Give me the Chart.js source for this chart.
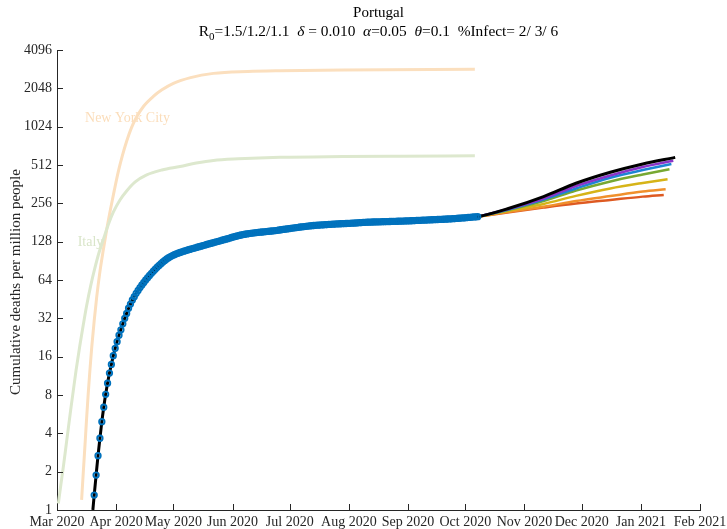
<!DOCTYPE html>
<html>
<head>
<meta charset="utf-8">
<script src="https://cdn.jsdelivr.net/npm/chart.js@4.4.0/dist/chart.umd.min.js"></script>
<style>
html,body{margin:0;padding:0;background:#fff;}
#wrap{width:727px;height:529px;position:relative;}
</style>
</head>
<body>
<div id="wrap"><canvas id="c" width="727" height="529"></canvas></div>
<script>
// ---- tick labels (x = days since 1 Mar 2020) ----
const monthTickDays = [0, 31, 61, 92, 122, 153, 184, 214, 245, 275, 306, 337];
const monthTickLabels = ['Mar 2020','Apr 2020','May 2020','Jun 2020','Jul 2020','Aug 2020','Sep 2020','Oct 2020','Nov 2020','Dec 2020','Jan 2021','Feb 2021'];
const yTickValues = [1, 2, 4, 8, 16, 32, 64, 128, 256, 512, 1024, 2048, 4096];

// ---- Portugal observed cumulative deaths per million (daily, from day 19.5) ----
const portugalStartDay = 19.5;
const portugalValues = [
 1.31,1.88,2.67,3.66,4.94,6.41,8.1,9.9,11.9,13.9,16.3,18.6,21.0,23.6,26.0,29.0,32.0,35.0,38.4,41.4,
 44.6,47.3,50.3,53.0,55.8,58.5,61.2,64.0,66.8,69.5,72.2,75.0,77.8,80.6,83.3,86.0,88.6,91.1,93.6,95.8,
 97.8,99.6,101.2,102.7,104.0,105.3,106.6,107.8,109.0,110.1,111.2,112.4,113.5,114.6,115.7,116.9,118.0,119.2,120.4,121.6,
 122.8,124.0,125.2,126.4,127.6,128.8,130.0,131.3,132.6,133.9,135.2,136.6,138.0,139.4,140.8,142.1,143.3,144.4,145.4,146.4,
 147.3,148.1,148.9,149.6,150.3,150.9,151.5,152.0,152.5,153.0,153.5,154.0,154.6,155.2,155.8,156.5,157.2,158.0,158.8,159.6,
 160.4,161.2,162.0,162.8,163.6,164.4,165.2,166.0,166.8,167.5,168.2,168.9,169.6,170.2,170.8,171.4,172.0,172.4,172.8,173.2,
 173.6,174.0,174.4,174.8,175.2,175.6,176.0,176.3,176.6,176.9,177.2,177.5,177.8,178.1,178.4,178.7,179.0,179.4,179.8,180.3,
 180.7,181.2,181.6,182.0,182.2,182.4,182.6,182.8,183.0,183.2,183.4,183.6,183.8,184.0,184.2,184.4,184.6,184.8,185.0,185.2,
 185.4,185.6,185.9,186.1,186.4,186.6,186.9,187.2,187.5,187.8,188.1,188.4,188.7,189.0,189.3,189.6,189.9,190.2,190.5,190.8,
 191.1,191.4,191.7,192.0,192.4,192.8,193.2,193.6,194.0,194.5,195.0,195.5,196.0,196.5,197.1,197.7,198.3,198.9,199.5,200.1,
 200.7,201.3
];

// ---- model fit (black) ----
const fitDays   = [18.8, 19.5, 20.5, 21.5, 22.5, 23.5, 24.5, 25.5, 26.5, 27.5, 28.5, 29.5, 30.5, 32.5, 34.5, 36.5, 38.5, 41.5, 46.5, 50.5, 54.5, 58.5, 62.5, 66.5, 71.5, 75.5, 80.5, 85.5, 89.5, 93.5, 98.5, 104.5, 110.5, 120.5, 127.5, 135.5, 145.5, 155.5, 162.5, 170.5, 180.5, 190.5, 197.5, 205.5, 212.5, 220.5, 237, 255, 272, 290, 307, 324];
const fitValues = [1.0, 1.31, 1.88, 2.67, 3.66, 4.94, 6.41, 8.1, 9.9, 11.9, 13.9, 16.3, 18.6, 23.6, 29, 35, 41.4, 50.3, 64, 75, 86, 95.8, 102.7, 107.8, 113.5, 118, 124, 130, 135.2, 140.8, 146.4, 150.9, 154, 161.2, 166.8, 172, 176, 179, 182, 183.6, 185.6, 188.4, 190.5, 193.2, 196.5, 201, 234, 289, 368, 449, 522, 588];

// ---- projection scenarios ----
const scenarioDays   = [220.5, 237, 255, 272, 290, 307];
const scenarioPurple = [201, 232, 279, 350, 424, 494, 553];
const scenarioBlue   = [201, 230, 274, 335, 407, 467, 522];
const scenarioGreen  = [201, 228, 267, 322, 380, 431, 474];
const scenarioYellow = [201, 224, 253, 293, 335, 370, 396];
const scenarioOrange = [201, 220, 241, 267, 292, 317, 330];
const scenarioRed    = [201, 218, 237, 255, 272, 289, 298];
const scenarioEndDays = [323, 322, 321, 320, 319, 318];

// ---- reference regions ----
const italyDays   = [0.7, 2, 3.3, 4.6, 5.9, 7.2, 8.5, 10, 12, 13.8, 15.5, 17.7, 19.9, 22, 24.3, 27, 29.5, 33, 36.5, 41, 47, 55, 64.5, 73, 82, 95, 117, 150, 180, 219];
const italyValues = [1.125, 1.57, 2.17, 3.07, 4.35, 6.15, 8.57, 12.5, 19.7, 28.6, 40, 58.1, 79.9, 104.7, 133.4, 176, 218, 272, 320, 377, 428, 468, 498, 530, 556, 572, 588, 596, 600, 604];
const nycDays     = [12.9, 13.8, 14.7, 15.5, 16.4, 17.3, 18.2, 19.5, 20.8, 22.5, 24.3, 26, 27.8, 30, 32.1, 34.3, 36.5, 39, 41.8, 45.5, 50.5, 55, 61, 70, 82, 100, 117, 150, 219];
const nycValues   = [1.2, 2.0, 3.29, 5.2, 8.34, 12.8, 18.9, 30.7, 46.9, 74.5, 111, 158, 221, 322, 452, 609, 787, 1003, 1226, 1489, 1770, 1992, 2241, 2487, 2684, 2778, 2817, 2856, 2896];

const regionLabels = ['New York City', 'Italy'];
const regionLabelDays = [14.7, 10.85];
const regionLabelValues = [1190, 126];

const titleLine1 = 'Portugal';
const titleParts = [
  {t:'R'}, {t:'0', sub:true}, {t:'=1.5/1.2/1.1  '}, {t:'\u03B4', it:true}, {t:' = 0.010  '},
  {t:'\u03B1', it:true}, {t:'=0.05  '}, {t:'\u03B8', it:true}, {t:'=0.1  %Infect= 2/ 3/ 6'}
];
const yAxisTitle = 'Cumulative deaths per million people';

// ---- helpers to build datasets ----
function pairs(xs, ys){ return xs.map((x,i)=>({x:x, y:ys[i]})); }
function scen(vals, end){ return pairs(scenarioDays.concat([end]), vals); }

const SERIF = '"Liberation Serif", "Times New Roman", Times, serif';
const AX = '#262626';

const portugalData = portugalValues.map((v,i)=>({x: portugalStartDay + i, y: v}));

const datasets = [
  {label:'Portugal', data: portugalData, showLine:false, pointRadius:2.7, pointBorderWidth:1.9,
   pointBorderColor:'#0072BD', pointBackgroundColor:'rgba(0,0,0,0)', pointStyle:'circle', order:0},
  {label:'fit', data: pairs(fitDays, fitValues), borderColor:'#000000', borderWidth:3, pointRadius:0, cubicInterpolationMode:'monotone', order:1},
  {label:'s1', data: scen(scenarioPurple, scenarioEndDays[0]), borderColor:'#8A35C8', borderWidth:2.5, pointRadius:0, cubicInterpolationMode:'monotone', order:2},
  {label:'s2', data: scen(scenarioBlue, scenarioEndDays[1]), borderColor:'#1C86D4', borderWidth:2.5, pointRadius:0, cubicInterpolationMode:'monotone', order:3},
  {label:'s3', data: scen(scenarioGreen, scenarioEndDays[2]), borderColor:'#77A832', borderWidth:2.5, pointRadius:0, cubicInterpolationMode:'monotone', order:4},
  {label:'s4', data: scen(scenarioYellow, scenarioEndDays[3]), borderColor:'#D6B418', borderWidth:2.5, pointRadius:0, cubicInterpolationMode:'monotone', order:5},
  {label:'s5', data: scen(scenarioOrange, scenarioEndDays[4]), borderColor:'#F0902C', borderWidth:2.5, pointRadius:0, cubicInterpolationMode:'monotone', order:6},
  {label:'s6', data: scen(scenarioRed, scenarioEndDays[5]), borderColor:'#DE5A22', borderWidth:2.5, pointRadius:0, cubicInterpolationMode:'monotone', order:7},
  {label:'Italy', data: pairs(italyDays, italyValues), borderColor:'#DDE8CE', borderWidth:3, pointRadius:0, cubicInterpolationMode:'monotone', order:8},
  {label:'New York City', data: pairs(nycDays, nycValues), borderColor:'#FBDFBE', borderWidth:3, pointRadius:0, cubicInterpolationMode:'monotone', order:9}
];

const decorPlugin = {
  id:'decor',
  beforeDatasetsDraw(chart){
    const ctx = chart.ctx, xs = chart.scales.x, ys = chart.scales.y;
    ctx.save();
    ctx.font = '14px ' + SERIF;
    ctx.textBaseline = 'middle';
    ctx.textAlign = 'left';
    const cols = ['#FBDDBA', '#D9E5C9'];
    regionLabels.forEach((t,i)=>{
      ctx.fillStyle = cols[i];
      ctx.fillText(t, xs.getPixelForValue(regionLabelDays[i]), ys.getPixelForValue(regionLabelValues[i]));
    });
    ctx.restore();
  },
  afterDraw(chart){
    const ctx = chart.ctx, xs = chart.scales.x, ys = chart.scales.y, a = chart.chartArea;
    ctx.save();
    // inward tick marks
    ctx.strokeStyle = AX; ctx.lineWidth = 1;
    ctx.beginPath();
    monthTickDays.forEach(d=>{
      const px = Math.round(xs.getPixelForValue(d)) + 0.5;
      ctx.moveTo(px, a.bottom); ctx.lineTo(px, a.bottom - 6);
    });
    yTickValues.forEach(v=>{
      const py = Math.round(ys.getPixelForValue(v)) + 0.5;
      ctx.moveTo(a.left, py); ctx.lineTo(a.left + 6, py);
    });
    ctx.stroke();
    // titles
    const cx = (a.left + a.right) / 2;
    ctx.fillStyle = '#000';
    ctx.textBaseline = 'middle';
    ctx.textAlign = 'center';
    ctx.font = '15px ' + SERIF;
    ctx.fillText(titleLine1, cx, 13);
    const fN = '15.4px ' + SERIF, fS = '11px ' + SERIF, fI = 'italic 15.4px ' + SERIF;
    let total = 0;
    titleParts.forEach(p=>{ ctx.font = p.sub ? fS : (p.it ? fI : fN); p.w = ctx.measureText(p.t).width; total += p.w; });
    let x = cx - total/2;
    ctx.textAlign = 'left';
    titleParts.forEach(p=>{
      ctx.font = p.sub ? fS : (p.it ? fI : fN);
      ctx.fillText(p.t, x, p.sub ? 37 : 32);
      x += p.w;
    });
    // y-axis title
    ctx.save();
    ctx.translate(16, (a.top + a.bottom)/2 + 2);
    ctx.rotate(-Math.PI/2);
    ctx.textAlign = 'center';
    ctx.fillStyle = AX;
    ctx.font = '15px ' + SERIF;
    ctx.fillText(yAxisTitle, 0, 0);
    ctx.restore();
    ctx.restore();
  }
};

new Chart(document.getElementById('c'), {
  type:'line',
  data:{datasets: datasets},
  options:{
    responsive:false,
    animation:false,
    devicePixelRatio:1,
    layout:{padding:{top:50, right:27, left:0, bottom:0}},
    plugins:{legend:{display:false}, tooltip:{enabled:false}, title:{display:false}},
    elements:{line:{borderCapStyle:'butt', borderJoinStyle:'round'}},
    scales:{
      x:{
        type:'linear', min:0, max:337,
        afterBuildTicks:(s)=>{ s.ticks = monthTickDays.map(v=>({value:v})); },
        afterFit:(s)=>{ s.height = 19; s.paddingLeft = 0; s.paddingRight = 0; },
        grid:{display:false, drawTicks:false},
        border:{display:true, color:AX, width:1},
        ticks:{autoSkip:false, maxRotation:0, minRotation:0, padding:4, color:AX,
               font:{family:SERIF, size:14},
               callback:(v)=>{ const i = monthTickDays.indexOf(v); return i>=0 ? monthTickLabels[i] : ''; }}
      },
      y:{
        type:'logarithmic', min:1, max:4096,
        afterBuildTicks:(s)=>{ s.ticks = yTickValues.map(v=>({value:v})); },
        afterFit:(s)=>{ s.width = 57; s.paddingTop = 0; s.paddingBottom = 0; },
        grid:{display:false, drawTicks:false},
        border:{display:true, color:AX, width:1},
        ticks:{autoSkip:false, padding:5, color:AX, font:{family:SERIF, size:14},
               callback:(v)=> String(v)}
      }
    }
  },
  plugins:[decorPlugin]
});
</script>
</body>
</html>
